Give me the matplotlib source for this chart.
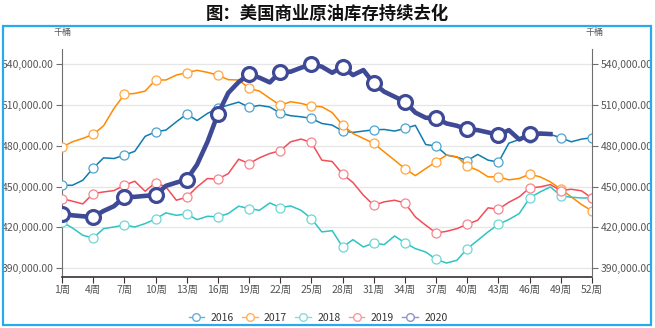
import matplotlib
matplotlib.use("Agg")
import matplotlib.pyplot as plt
from matplotlib.lines import Line2D
from matplotlib.patches import Rectangle
from matplotlib.ticker import FuncFormatter

plt.rcParams['font.family'] = ['Noto Sans CJK SC', 'DejaVu Sans']

# Weekly US commercial crude inventories, thousand barrels
weeks = list(range(1, 53))

s2016 = [451.0, 451.0, 454.7, 463.6, 471.2, 470.7, 473.2, 476.0, 487.0, 490.4,
         491.6, 497.7, 503.4, 498.7, 503.9, 507.7, 510.0, 512.2, 508.4, 509.8,
         508.6, 504.1, 502.2, 501.4, 500.2, 496.5, 495.3, 490.9, 489.9, 490.9,
         491.8, 492.1, 490.9, 492.8, 495.1, 481.0, 479.9, 473.2, 471.7, 469.2,
         473.7, 469.5, 468.0, 482.0, 484.7, 485.5, 488.0, 488.4, 486.0, 483.0,
         485.0, 486.0]

s2017 = [479.1, 483.0, 485.5, 488.4, 494.8, 507.5, 517.9, 518.6, 520.3, 528.5,
         528.5, 532.1, 533.9, 535.6, 534.1, 532.1, 528.7, 528.5, 522.3, 520.3,
         515.0, 509.8, 512.5, 511.3, 509.3, 508.8, 504.5, 495.3, 489.1, 485.5,
         481.8, 475.6, 469.5, 463.2, 458.1, 463.3, 468.3, 473.2, 472.0, 465.1,
         462.1, 457.2, 457.2, 455.0, 456.0, 459.2, 457.2, 453.5, 448.1, 442.5,
         436.8, 432.1]

s2018 = [424.0, 419.6, 414.2, 412.2, 419.1, 420.3, 421.8, 420.3, 422.8, 426.2,
         430.7, 428.9, 429.9, 425.7, 428.2, 427.7, 430.2, 435.6, 433.9, 432.6,
         438.0, 434.6, 435.8, 432.6, 426.5, 416.7, 417.6, 405.6, 411.0, 405.6,
         408.6, 407.3, 413.7, 408.6, 404.4, 401.9, 396.5, 393.8, 395.8, 404.4,
         410.5, 416.7, 422.3, 425.8, 430.2, 441.7, 446.1, 449.8, 443.2, 442.2,
         441.7, 441.7]

s2019 = [441.2, 439.3, 437.3, 444.9, 446.1, 447.1, 451.0, 454.0, 446.6, 453.0,
         449.8, 440.0, 442.2, 449.8, 456.0, 455.5, 459.6, 470.2, 467.0, 471.2,
         474.4, 476.4, 483.0, 485.0, 482.5, 469.5, 468.5, 459.2, 453.0, 443.7,
         436.3, 438.8, 440.0, 438.0, 427.7, 421.6, 415.9, 417.1, 419.1, 422.3,
         425.3, 434.4, 433.4, 438.5, 442.5, 449.1, 449.8, 451.5, 447.1, 448.1,
         446.9, 441.5]

s2020 = [430.2, 428.9, 428.2, 427.7, 432.1, 435.6, 442.5, 442.5, 443.2, 443.7,
         450.6, 453.0, 455.2, 466.3, 483.0, 503.4, 519.0, 527.0, 532.6, 530.2,
         526.7, 534.6, 534.6, 537.5, 540.0, 538.3, 533.8, 538.3, 532.1, 535.8,
         526.0, 519.9, 516.2, 512.5, 504.5, 500.7, 500.4, 496.5, 494.8, 492.1,
         491.6, 489.9, 487.9, 491.6, 484.7, 488.4, 489.1, 488.7]

series_names = ['2016', '2017', '2018', '2019', '2020']
series_data = [s2016, s2017, s2018, s2019, s2020]
line_colors = ['#0f7cb0', '#ff8a00', '#2ec4c4', '#f24d58', '#3f4a96']
marker_edges = ['#4fa3cf', '#ffa640', '#6fd6d6', '#f7868d', '#3f4a96']
legend_colors = ['#6aafd6', '#ffb060', '#86dcdc', '#f79aa0', '#8f94c4']

y_ticks = [390000, 420000, 450000, 480000, 510000, 540000]
x_ticks = list(range(1, 53, 3))
x_labels = [f'{w}周' for w in x_ticks]

W, H = 655, 328
fig = plt.figure(figsize=(W / 100, H / 100), dpi=100)
ax = fig.add_axes([62 / W, 1 - 277 / H, (592 - 62) / W, (277 - 49) / H])

for name, data, lc, me in zip(series_names, series_data, line_colors, marker_edges):
    vals = [v * 1000 for v in data]
    x = weeks[:len(vals)]
    if name == '2020':
        ax.plot(x, vals, color=lc, lw=3.3, marker='o', markevery=3,
                markersize=10, markerfacecolor='white', markeredgecolor=me,
                markeredgewidth=2.3, zorder=6, solid_joinstyle='round')
    else:
        ax.plot(x, vals, color=lc, lw=1.1, marker='o', markevery=3,
                markersize=6.5, markerfacecolor='white', markeredgecolor=me,
                markeredgewidth=0.9, zorder=3)

ax.set_xlim(1, 52)
ax.set_ylim(383500, 551300)
ax.set_yticks(y_ticks)
ax.yaxis.set_major_formatter(FuncFormatter(lambda v, p: f'{v:,.2f}'))
ax.set_xticks(x_ticks)
ax.set_xticklabels(x_labels)
ax.grid(axis='y', color='#e6e6e6', lw=0.9, zorder=0)

for side in ['top', 'right']:
    ax.spines[side].set_visible(False)
ax.spines['left'].set_color('#6e6e6e')
ax.spines['bottom'].set_color('#3a3030')
ax.spines['bottom'].set_linewidth(1.2)
ax.tick_params(axis='y', colors='#6e6e6e', labelcolor='#555555', labelsize=7.5, length=4, width=0.8, pad=2)
ax.tick_params(axis='x', colors='#3a3030', labelcolor='#555555', labelsize=7.5, length=4, width=0.8, pad=2)

ax2 = ax.twinx()
ax2.set_ylim(ax.get_ylim())
ax2.set_yticks(y_ticks)
ax2.yaxis.set_major_formatter(FuncFormatter(lambda v, p: f'{v:,.2f}'))
for side in ['top', 'left', 'bottom']:
    ax2.spines[side].set_visible(False)
ax2.spines['right'].set_color('#6e6e6e')
ax2.tick_params(axis='y', colors='#6e6e6e', labelcolor='#555555', labelsize=7.5, length=4, width=0.8, pad=2)

# unit labels above both value axes
fig.text(63 / W, 1 - 33 / H, '千桶', ha='center', va='center', fontsize=6.5, color='#555555')
fig.text(594 / W, 1 - 33 / H, '千桶', ha='center', va='center', fontsize=6.5, color='#555555')

fig.text(0.5, 1 - 14 / H, '图：美国商业原油库存持续去化', ha='center', va='center',
         fontsize=12.5, fontweight='bold', color='#111111')

fig.patches.append(Rectangle((2.5 / W, 1 - 325 / H), (651 - 2.5) / W, (325 - 26) / H,
                             transform=fig.transFigure, fill=False,
                             edgecolor='#2aaaee', lw=1.6, zorder=0))

handles = [Line2D([0], [0], color=c, lw=1.0, marker='o', markersize=5.5,
                  markerfacecolor='white', markeredgecolor=c, markeredgewidth=1.0)
           for c in legend_colors]
fig.legend(handles, series_names, loc='center', bbox_to_anchor=(318 / W, 1 - 318 / H),
           ncol=5, frameon=False, fontsize=7.5, handlelength=1.5, handletextpad=0.6,
           columnspacing=0.8, labelcolor='#333333')

fig.savefig('out.png', dpi=100)
